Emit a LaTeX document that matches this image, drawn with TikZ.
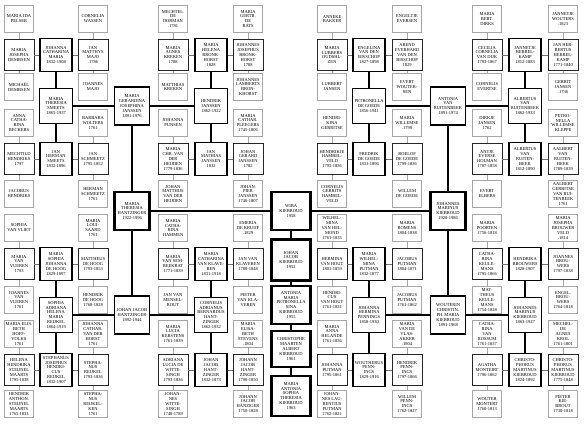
\documentclass[tikz,border=0pt]{standalone}
\usepackage{fontspec}
\setmainfont{Liberation Serif}
\tikzset{
 box/.style={draw, fill=white, align=center, inner sep=0.4pt, font=\fontsize{4.5}{4.95}\selectfont},
 g6/.style={box, draw=black!35, line width=0.6pt, minimum width=29pt, minimum height=27pt},
 g5/.style={box, draw=black!85, line width=0.8pt, minimum width=30pt, minimum height=31pt},
 g4/.style={box, line width=1.1pt, minimum width=32pt, minimum height=33pt},
 g3/.style={box, line width=1.4pt, minimum width=33pt, minimum height=35pt},
 g2/.style={box, line width=1.9pt, minimum width=35pt, minimum height=38pt},
 g1/.style={box, line width=2.3pt, minimum width=35pt, minimum height=38pt},
 g0/.style={box, line width=2.6pt, minimum width=39pt, minimum height=38pt},
 l0/.style={line width=2.4pt},
 l1/.style={line width=2pt},
 l2/.style={line width=1.4pt},
 l3/.style={line width=1.1pt},
 l4/.style={line width=0.8pt, draw=black!55},
 l5/.style={line width=0.7pt, draw=black!35}
}
% gen5 node with its two parents: name, x, y, text, yabove, textabove, ybelow, textbelow
\newcommand{\gfive}[8]{%
 \node[g5] (#1) at (#2,#3) {#4};
 \node[g6] (#1a) at (#2,#5) {#6};
 \node[g6] (#1b) at (#2,#7) {#8};
 \draw[l5] (#1a) -- (#1);
 \draw[l5] (#1) -- (#1b);
}
\begin{document}
\begin{tikzpicture}[x=1pt,y=-1pt]
\useasboundingbox (0,0) rectangle (584,425);
\fill[white] (0,0) rectangle (584,425);

% ===== centre =====
\node[g0] (W0) at (291,211) {WIBA\\KIEBROUD\\1958};
\node[g0, minimum height=41pt] (K1) at (291,260) {JOHAN\\JACOB\\KIEBROUD\\1952};
\node[g0, minimum height=38pt] (K2) at (291,305) {ANTONIA\\MARIA\\PETRONELLA\\SINA\\KIEBROUD\\1955};
\node[g0, minimum height=36pt] (K3) at (291,349) {CHRISTOPHE\\MAARTEN\\ALBERT\\KIEBROUD\\1961};
\node[g0, minimum height=40pt] (K4) at (291,396) {MARIA\\ANTONIA\\SOPHIA\\THERESIA\\KIEBROUD\\1963};
\draw[l0] (W0) -- (K1);
\draw[l0] (K1) -- (K2);
\draw[l0] (K2) -- (K3);
\draw[l0] (K3) -- (K4);

% ===== parents =====
\node[g1] (L1) at (132,211) {MARIA\\THERESIA\\HANTZINGER\\1922-1996};
\node[g1] (R1) at (448,211) {JOHANNES\\MARINUS\\KIEBROUD\\1920-1986};
\draw[l0] (L1) -- (W0);
\draw[l0] (W0) -- (R1);

% ===== grandparents =====
\node[g2] (A2) at (132,106) {MARIA\\GERARDINA\\JOSEPHINA\\JANSSEN\\1891-1976};
\node[g2] (C2) at (132,315) {JOHAN JACOB\\HANTZINGER\\1892-1944};
\node[g2] (B2) at (448,106) {ANTONIA\\VAN\\RUITENBEEK\\1891-1974};
\node[g2] (D2) at (448,315) {WOUTERIN\\CHRISTIN.\\PH. MARIA\\KIEBROUD\\1891-1968};
\draw[l1] (A2) -- (L1);
\draw[l1] (L1) -- (C2);
\draw[l1] (B2) -- (R1);
\draw[l1] (R1) -- (D2);

% ===== great-grandparents =====
\node[g3] (A3l) at (56,106) {MARIA\\THERESIA\\SMEETS\\1865-1937};
\node[g3] (A3r) at (211,106) {HENDRIK\\JANSSEN\\1862-1922};
\node[g3] (B3l) at (369,106) {PETRONELLA\\DE GOEDE\\1856-1941};
\node[g3] (B3r) at (525,106) {ALBERTUS\\VAN\\RUITENBEEK\\1862-1933};
\node[g3] (C3l) at (56,315) {SOPHIA\\ADRIANA\\HELENA\\MARIA\\REIJKEL\\1864-1919};
\node[g3] (C3r) at (211,315) {CORNELIS\\ADRIANUS\\BERNARDUS\\HANT-\\ZINGER\\1862-1932};
\node[g3] (D3l) at (369,315) {JOHANNA\\HERMINA\\PENNINGS\\1858-1930};
\node[g3] (D3r) at (525,315) {JOHANNES\\MARINUS\\KIEBROUD\\1863-1927};
\draw[l2] (A3l) -- (A2);
\draw[l2] (A2) -- (A3r);
\draw[l2] (B3l) -- (B2);
\draw[l2] (B2) -- (B3r);
\draw[l2] (C3l) -- (C2);
\draw[l2] (C2) -- (C3r);
\draw[l2] (D3l) -- (D2);
\draw[l2] (D2) -- (D3r);

% ===== generation 4 =====
\node[g4] (A4la) at (56,55) {JOHANNA\\CATHARINA\\MARIA\\1832-1908};
\node[g4] (A4lb) at (56,159) {JAN\\HERMAN\\SMEETS\\1832-1896};
\node[g4] (A4ra) at (211,55) {MARIA\\HELENA\\BRONK-\\HORST\\1828};
\node[g4] (A4rb) at (211,159) {JAN\\MATHIAS\\JANSSEN\\1832};
\node[g4] (B4la) at (369,55) {ENGELINA\\VAN DEN\\BISSCHOP\\1827-1898};
\node[g4] (B4lb) at (369,159) {FREDRIK\\DE GOEDE\\1831-1896};
\node[g4] (B4ra) at (525,55) {JANNETJE\\HERBEL-\\KAMP\\1812-1883};
\node[g4] (B4rb) at (525,159) {ALBERTUS\\VAN\\RUITEN-\\BEEK\\1812-1890};
\node[g4] (C4la) at (56,264) {MARIA\\SOPHIA\\JOHANNA\\DE HOOG\\1829-1897};
\node[g4] (C4lb) at (56,370) {STEPHANUS\\JOSEPHUS\\HENDRI-\\CUS\\REIJKEL\\1832-1907};
\node[g4] (C4ra) at (211,264) {MARIA\\CATHARINA\\VAN KLAVE-\\REN\\1831-1918};
\node[g4] (C4rb) at (211,370) {JOHAN\\JACOB\\HANT-\\ZINGER\\1832-1873};
\node[g4] (D4la) at (369,264) {MARIA\\WILHEL-\\MINA\\PUTMAN\\1832-1877};
\node[g4] (D4lb) at (369,370) {WOUTHERUS\\PENN-\\INGS\\1829-1916};
\node[g4] (D4ra) at (525,264) {HENDRIKA\\BROUWERS\\1828-1907};
\node[g4] (D4rb) at (525,370) {CHRISTO-\\PHORUS\\MARTINUS\\KIEBROUD\\1824-1892};
\foreach \q in {A,B,C,D}{
 \draw[l3] (\q4la) -- (\q3l);
 \draw[l3] (\q3l) -- (\q4lb);
 \draw[l3] (\q4ra) -- (\q3r);
 \draw[l3] (\q3r) -- (\q4rb);
}

% ===== generation 5 and 6 : top-left =====
\gfive{a1}{19}{55}{MARIA\\JOSEPHA\\DEMBSEN}{19}{MARIA IDA\\PELSER}{87}{MICHAËL\\DEMBSEN}
\gfive{a2}{93}{55}{JAN\\MATTHYS\\MAJO\\.1786}{19}{CORNELIA\\WASSEN}{87}{JOANNES\\MAJO}
\gfive{a3}{19}{159}{MECHTILD\\HENDRIKS\\1797}{123}{ANNA\\CATHA-\\RINA\\BECKERS}{194}{JACOBUS\\HENDRIKS}
\gfive{a4}{93}{159}{JAN\\SCHMEETZ\\1795-1852}{123}{BARBARA\\WOLTERS\\1761}{194}{HERMAN\\SCHMEETZ\\1761}
\gfive{a5}{173}{55}{MARIA\\AGNES\\KREKEN\\1788}{19}{MECHTEL.\\DE\\DORMAN\\.1781}{87}{MATTHIAS\\KREKEN}
\gfive{a6}{248}{55}{JOHANNES\\JOSEPHUS\\BRONK-\\HORST\\1788}{19}{MARIA\\GERTR.\\DE\\BATS}{87}{JOHANNES\\LAMBERTS\\BRON-\\KHORST}
\gfive{a7}{173}{159}{MARIA\\CHR. VAN\\DER\\HEIJDEN\\1779-1836}{123}{JOHANNA\\PUNSEN}{194}{JOHAN\\MATTHIJS\\VAN DER\\HEIJDEN}
\gfive{a8}{248}{159}{JOHAN\\GERARD\\JANSSEN\\1782}{123}{MARIA\\CATHAR.\\PLEEGERS\\1745-1806}{194}{JOHAN.\\PIER\\JANSSEN\\1746-1807}
\draw[l4] (a1) -- (A4la); \draw[l4] (A4la) -- (a2);
\draw[l4] (a3) -- (A4lb); \draw[l4] (A4lb) -- (a4);
\draw[l4] (a5) -- (A4ra); \draw[l4] (A4ra) -- (a6);
\draw[l4] (a7) -- (A4rb); \draw[l4] (A4rb) -- (a8);

% ===== top-right =====
\gfive{b1}{332}{55}{MARIA\\LUBBERS\\OUDSHL-\\ZEN}{19}{ANNEKE\\BAKKER}{87}{LUBBERT\\JANSEN}
\gfive{b2}{407}{55}{AREND\\EVERHARD\\VAN DEN\\BISSCHOP\\1829}{19}{ENGELTJE\\EVERSEN}{87}{EVERT\\WOUTER-\\SEN}
\gfive{b3}{332}{159}{HENDRIKJE\\HAMBEL-\\VELD\\1795-1836}{123}{HENDRI-\\KINA\\GERRITSE}{194}{CORNELIS\\GERRITS\\HAMBEL-\\VELD}
\gfive{b4}{407}{159}{ROELOF\\DE GOEDE\\1799-1836}{123}{MARIA\\WILLEMSE\\.1799}{194}{WILLEM\\DE GOEDE}
\gfive{b5}{487}{55}{CECILIA\\CORNELIA\\VAN DIJK\\1793-1867}{19}{MARIA\\BERT.\\DIRKS}{87}{CORNELIS\\EVERTSE}
\gfive{b6}{563}{55}{JAN HER-\\BERTUS\\HERBEL-\\KAMP\\1771-1840}{19}{JANNETJE\\WOUTERS\\.1823}{87}{GERRIT\\JANSEN\\.1736}
\gfive{b7}{487}{159}{ANTJE\\EVERSE\\HOLMAN\\1787-1858}{123}{DIRKJE\\JANSEN\\1762}{194}{EVERT\\ELBERS}
\gfive{b8}{563}{159}{AALBERT\\VAN\\RUITEN-\\BEEK\\1789-1839}{123}{PETRO-\\NELLA\\WILLEMSE\\KLEPPE}{194}{AALBERT\\GERRITSE\\VAN RUI-\\TENBEEK\\1761}
\draw[l4] (b1) -- (B4la); \draw[l4] (B4la) -- (b2);
\draw[l4] (b3) -- (B4lb); \draw[l4] (B4lb) -- (b4);
\draw[l4] (b5) -- (B4ra); \draw[l4] (B4ra) -- (b6);
\draw[l4] (b7) -- (B4rb); \draw[l4] (B4rb) -- (b8);

% ===== bottom-left =====
\gfive{c1}{19}{264}{MARIA\\VAN\\VUEREN\\1793}{228}{SOPHIA\\VAN VLIET}{300}{JOANNES\\VAN\\VUEREN\\1761}
\gfive{c2}{93}{264}{MATTHEUS\\DE HOOG\\1793-1853}{228}{MARIA\\LOUI-\\SAARD\\1761}{300}{HENDRIK\\DE HOOG\\1768-1828}
\gfive{c3}{19}{370}{HELENA\\HENDRIKA\\STEIJNEL\\MAARTS\\1795-1838}{334}{MARIA ELIS.\\BETH\\HOFF-\\VOLKS\\1761}{404}{HENDRIK\\ANTHON.\\STEIJNEL\\MAARTS\\1765-1833}
\gfive{c4}{93}{370}{STEPHA-\\NUS\\REIJKEL\\1793-1836}{334}{JOHANNA\\CATHAR.\\VAN DER\\HORST\\1761}{404}{STEPHA-\\NUS\\REIJKEL-\\KEN\\1761}
\gfive{c5}{173}{264}{MARIA\\VAN SEM-\\BEEKRAT\\1771-1839}{228}{MARIA\\CATHA-\\RINA\\HAMMEN}{300}{JAN VAN\\MENSEL-\\ROUT}
\gfive{c6}{248}{264}{JAN VAN\\KLAVEREN\\1780-1848}{228}{EMERIA\\DE KRUIJF\\.1829}{300}{PIETER\\VAN KLA-\\VEREN}
\gfive{c7}{173}{370}{ADRIANA\\LUCIA DE\\WITTE-\\SINGH\\1793-1836}{334}{MARIA\\LUCIA\\KERSTENS\\1761-1839}{404}{JOHAN-\\NES\\WITTE-\\SINGH\\1748-1789}
\gfive{c8}{248}{370}{JOHANN\\JACOB\\HANT-\\ZINGER\\1790-1850}{334}{MARIA\\ELISA-\\BETH\\STEVENS\\.1804}{404}{JOHANN\\JACOB\\HÄNZIGER\\1750-1828}
\draw[l4] (c1) -- (C4la); \draw[l4] (C4la) -- (c2);
\draw[l4] (c3) -- (C4lb); \draw[l4] (C4lb) -- (c4);
\draw[l4] (c5) -- (C4ra); \draw[l4] (C4ra) -- (c6);
\draw[l4] (c7) -- (C4rb); \draw[l4] (C4rb) -- (c8);

% ===== bottom-right =====
\gfive{d1}{332}{264}{HERMINA\\VAN HOUT\\1801-1859}{228}{WILHEL-\\MINA\\VAN HEL-\\MOND\\1761-1835}{300}{HENDRI-\\CUS\\VAN HOUT\\1761-1831}
\gfive{d2}{407}{264}{JACOBUS\\PUTMAN\\1804-1871}{228}{MARIA\\ROMENS\\1804-1838}{300}{JACOBUS\\PUTMAN\\1761-1862}
\gfive{d3}{332}{370}{JOHANNA\\PUTMAN\\1795-1861}{334}{MARIA\\ANNA\\HELANDE\\1761-1836}{404}{JOHAN-\\NES LAU-\\RENTIUS\\PUTMAN\\1762-1821}
\gfive{d4}{407}{370}{HENDRIK\\PENN-\\INGS\\1797-1866}{334}{MARIA\\VAN DE\\VLAS-\\AKKER\\.1804}{404}{WILLEM\\PENN-\\INGS\\1762-1827}
\gfive{d5}{487}{264}{CATHA-\\RINA\\KEULE-\\MANS\\1795-1866}{228}{MARIA\\POORTEN\\1756-1818}{300}{MAT-\\THEUS\\KEULE-\\MANS\\1754-1828}
\gfive{d6}{563}{264}{JOANNES\\BROU-\\WERS\\1797-1838}{228}{MARIA\\JOSEPHA\\BROUWER\\VELD\\.1814}{300}{ENGEL.\\BROU-\\WERS\\1764-1818}
\gfive{d7}{487}{370}{AGATHA\\MONTEIRT\\1796-1862}{334}{CATHA-\\RINA\\VAN\\ROSSUM\\1761-1837}{404}{WOUTER\\MONTERT\\1760-1813}
\gfive{d8}{563}{370}{CHRISTO-\\PHORUS\\MARTINUS\\KIEBROUD\\1775-1848}{334}{MECHEL-\\DE\\AGNES\\KROL\\1761-1801}{404}{PIETER\\KIE-\\BROUT\\1730-1818}
\draw[l4] (d1) -- (D4la); \draw[l4] (D4la) -- (d2);
\draw[l4] (d3) -- (D4lb); \draw[l4] (D4lb) -- (d4);
\draw[l4] (d5) -- (D4ra); \draw[l4] (D4ra) -- (d6);
\draw[l4] (d7) -- (D4rb); \draw[l4] (D4rb) -- (d8);
\end{tikzpicture}
\end{document}
